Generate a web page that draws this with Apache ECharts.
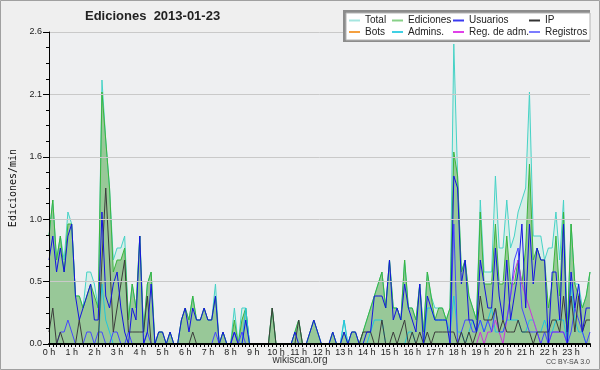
<!DOCTYPE html>
<html><head><meta charset="utf-8">
<script src="https://cdn.jsdelivr.net/npm/echarts@6/dist/echarts.min.js"></script>
<style>html,body{margin:0;padding:0;background:#efefef}#c{width:600px;height:370px}</style>
</head><body><div id="c"></div>
<script>
// 10-minute intervals, 144 points (00:00 .. 23:50)
const hourLabels = Array.from({length: 24}, (_, h) => h + ' h');
const times = Array.from({length: 144}, (_, i) => Math.floor(i / 6) + ':' + ((i % 6) * 10 + '').padStart(2, '0'));

const total = [
0.9,1.2,0.7,0.9,0.7,1.1,1.0,0.4,0.4,0.3,
0.6,0.6,0.5,0.3,2.2,1.7,1.3,0.7,0.8,0.8,
0.9,0.2,0.5,0.3,0.9,0.1,0.5,0.6,0,0.1,
0.1,0,0.1,0,0,0.2,0.3,0.2,0.4,0.2,
0.2,0.3,0.2,0.2,0.5,0,0.1,0,0,0.3,
0,0.3,0.3,0,0,0,0,0,0,0.3,
0,0,0,0,0,0.1,0.2,0,0,0.1,
0.2,0.1,0,0,0,0.1,0,0,0.2,0,
0.1,0.1,0,0.1,0.2,0.3,0.4,0.5,0.6,0.3,
0.7,0.3,0.3,0.2,0.7,0.3,0.3,0.2,0.5,0.1,
0.6,0.4,0.3,0.3,0.3,0.2,0.3,2.5,1.4,0.6,
0.7,0.4,0.3,0.2,1.2,0.6,0.6,0.6,1.4,0.8,
0.8,1.2,0.8,0.9,1.1,1.2,1.3,2.1,0.9,0.9,
0.9,0.7,0.8,0.8,1.1,0.7,1.2,0.1,1.0,0.5,
0.5,0.3,0.4,0.6];

const ediciones = [
0.9,1.2,0.7,0.9,0.6,1.0,1.0,0.4,0.4,0.3,
0.4,0.5,0.4,0.3,2.1,1.7,1.3,0.6,0.7,0.7,
0.8,0.2,0.5,0.3,0.9,0.1,0.5,0.6,0,0.1,
0.1,0,0.1,0,0,0.2,0.3,0.2,0.4,0.2,
0.2,0.3,0.2,0.2,0.4,0,0.1,0,0,0.2,
0,0.2,0.3,0,0,0,0,0,0,0.3,
0,0,0,0,0,0.1,0.2,0,0,0.1,
0.2,0.1,0,0,0,0.1,0,0,0.1,0,
0.1,0.1,0,0.1,0.2,0.3,0.4,0.5,0.6,0.3,
0.7,0.3,0.3,0.2,0.7,0.3,0.3,0.2,0.5,0.1,
0.6,0.4,0.2,0.3,0.3,0.2,0.3,1.6,1.4,0.6,
0.7,0.4,0.3,0.2,1.1,0.5,0.5,0.5,1.0,0.5,
0.5,0.9,0.5,0.5,0.7,0.5,0.8,1.5,0.7,0.8,
0.7,0.7,0.3,0.5,0.9,0.4,1.1,0.1,1.0,0.5,
0.4,0.3,0.4,0.6];

const usuarios = [
0.7,0.9,0.6,0.8,0.6,0.9,1.0,0.4,0.2,0.3,
0.4,0.5,0.2,0.2,1.1,0.4,0.3,0.5,0.6,0.3,
0.1,0,0.3,0.2,0.9,0,0.1,0.5,0,0.1,
0.1,0,0.1,0,0,0.2,0.3,0.1,0.3,0.2,
0.2,0.3,0.2,0.2,0.4,0,0.1,0,0,0.1,
0,0,0.2,0,0,0,0,0,0,0,
0,0,0,0,0,0.1,0,0,0,0.1,
0.2,0.1,0,0,0,0.1,0,0,0.1,0,
0.1,0.1,0,0,0.1,0.1,0.4,0.4,0.4,0.3,
0.7,0.2,0.3,0.2,0.5,0.3,0.2,0.1,0.5,0,
0.4,0.3,0.2,0.2,0.2,0.2,0,1.4,1.3,0.5,
0.7,0.2,0.2,0.1,0.7,0.5,0.3,0.3,0.8,0.4,
0.2,0.7,0.2,0.4,0.6,1.0,0.3,1.0,0.5,0.8,
0.7,0.7,0,0.6,0.6,0.2,1.0,0,0.6,0.3,
0.5,0.1,0.3,0.3];

const ip = [
0.1,0.3,0,0.1,0,0,0,0,0.2,0,
0,0,0,0,0.7,1.3,0.7,0.1,0.3,0.5,
0.7,0.1,0.1,0.1,0.1,0.1,0.4,0,0,0,
0,0,0,0,0,0,0,0,0.1,0,
0,0,0,0,0,0,0,0,0,0,
0,0,0,0,0,0,0,0,0,0.3,
0,0,0,0,0,0,0.2,0,0,0,
0,0,0,0,0,0,0,0,0,0,
0,0,0,0.1,0.1,0.1,0,0,0.2,0,
0,0.1,0,0.1,0.2,0,0.1,0,0.1,0,
0.1,0,0.1,0.1,0.1,0.1,0.1,0.1,0,0.1,
0,0.1,0,0.1,0.4,0.2,0.2,0.2,0.3,0.1,
0.2,0.1,0.1,0.1,0.2,0.1,0.1,0.1,0,0.1,
0.1,0.1,0.1,0.2,0.2,0.1,0.4,0.1,0.4,0.1,
0.4,0.1,0.2,0.2];

const bots = [
0,0,0,0,0,0,0,0,0,0, 0,0,0,0,0,0,0,0,0,0, 0,0,0,0,0,0,0,0,0,0,
0,0,0,0,0,0,0,0,0,0, 0,0,0,0,0,0,0,0,0,0, 0,0,0,0,0,0,0,0,0,0,
0,0,0,0,0,0,0,0,0,0, 0,0,0,0,0,0,0,0,0,0, 0,0,0,0,0,0,0,0,0,0,
0,0,0,0,0,0,0,0,0,0, 0,0,0,0,0,0,0,0,0,0, 0,0,0,0,0,0,0,0,0,0,
0,0,0,0,0,0,0,0,0,0, 0,0,0,0,0,0,0,0,0,0, 0,0,0,0];

const admins = [
0,0,0,0,0,0,0,0,0,0,
0,0,0,0,0.5,0.2,0.1,0,0,0,
0,0,0,0,0,0,0,0,0,0,
0,0,0,0,0,0,0,0,0,0,
0,0,0,0,0,0,0,0,0,0,
0,0,0.3,0,0,0,0,0,0,0,
0,0,0,0,0,0,0,0,0,0,
0,0,0,0,0,0,0,0,0.2,0,
0,0,0,0,0,0.1,0.2,0.2,0.2,0,
0,0,0,0,0,0.1,0.1,0,0,0,
0.3,0.3,0.2,0.2,0.2,0.2,0.1,0.4,0.1,0.1,
0,0.1,0.2,0.1,0.2,0.1,0.2,0.3,0.1,0.1,
0.1,0.2,0.2,0.2,0.2,0.1,0.1,0.2,0.2,0.1,
0.1,0.2,0.1,0.1,0.2,0.2,0.2,0,0.5,0.2,
0.1,0.1,0,0];

const regAdm = [
0,0,0,0,0,0,0,0,0,0, 0,0,0,0,0,0,0,0,0,0, 0,0,0,0,0,0,0,0,0,0,
0,0,0,0,0,0,0,0,0,0, 0,0,0,0,0,0,0,0,0,0, 0,0,0,0,0,0,0,0,0,0,
0,0,0,0,0,0,0,0,0,0, 0,0,0,0,0,0,0,0,0,0, 0,0,0,0,0,0,0,0,0,0,
0,0,0,0,0,0,0,0,0,0, 0,0,0,0,0,0,0,0,0,0,
0,0,0,0,0.1,0,0.1,0.1,0.2,0.1,
0,0.2,0.4,0.6,0.7,0.5,0.4,0.3,0.2,0.1,
0,0,0,0.1,0.1,0.1,0.1,0,0,0,
0,0,0,0];

const registros = [
0,0,0,0.1,0.1,0.2,0.1,0,0,0,
0.1,0.1,0,0.1,0.1,0,0,0.1,0.1,0,
0,0.1,0,0,0,0,0.1,0,0,0,
0,0,0,0,0,0,0,0,0,0,
0,0,0,0,0.1,0,0,0,0,0.1,
0,0.1,0,0,0,0,0,0,0,0,
0,0,0,0,0,0,0,0,0,0,
0,0,0,0,0,0,0,0,0,0,
0,0,0,0,0,0,0,0,0,0,
0,0,0,0,0,0,0,0,0,0,
0,0,0,0,0,0,0,1.0,0,0.1,
0.2,0.2,0.1,0.1,0.2,0.1,0.2,0.1,0.3,0.1,
0.1,0.2,0.4,0.7,0.8,0.3,0.2,0.1,0.1,0.1,
0,0.1,0,0.1,0.1,0.1,0.1,0,0.1,0.3,
0.2,0.1,0,0.1];

const chart = echarts.init(document.getElementById('c'), null, {renderer: 'canvas'});
function ln(name, data, color, extra) {
  return Object.assign({name, type: 'line', data, symbol: 'none', animation: false,
    lineStyle: {color, width: 1}, itemStyle: {color}, emphasis: {disabled: true}}, extra || {});
}
const legBase = {orient: 'vertical', top: 15.5, itemWidth: 11, itemHeight: 2, itemGap: 1.5,
  icon: 'rect', selectedMode: false, padding: 0, z: 20,
  textStyle: {fontSize: 10, fontFamily: 'Liberation Sans', color: '#222', lineHeight: 10}};
chart.setOption({
  backgroundColor: '#efefef',
  animation: false,
  title: {text: 'Ediciones  2013-01-23', left: 85, top: 10, padding: 0,
    textStyle: {fontSize: 13, fontWeight: 'bold', fontFamily: 'Liberation Sans', color: '#222'}},
  grid: {left: 46, right: 10, top: 32, bottom: 26, show: true, backgroundColor: '#eeeff1', borderWidth: 0},
  legend: [
    Object.assign({}, legBase, {left: 349, data: [{name: 'Total', itemStyle: {color: '#a6e6e0'}}, {name: 'Bots', itemStyle: {color: '#f5a040'}}]}),
    Object.assign({}, legBase, {left: 392, data: [{name: 'Ediciones', itemStyle: {color: '#88d088'}}, {name: 'Admins.', itemStyle: {color: '#40d0e4'}}]}),
    Object.assign({}, legBase, {left: 453, data: [{name: 'Usuarios', itemStyle: {color: '#3a3af0'}}, {name: 'Reg. de adm.', itemStyle: {color: '#e040e8'}}]}),
    Object.assign({}, legBase, {left: 529, data: [{name: 'IP', itemStyle: {color: '#333333'}}, {name: 'Registros', itemStyle: {color: '#7c7cff'}}]})
  ],
  xAxis: {type: 'category', data: times, boundaryGap: false, z: 5,
    axisLine: {lineStyle: {color: '#000', width: 2}},
    axisTick: {interval: 0, length: 3, lineStyle: {color: '#000'}},
    axisLabel: {interval: 5, margin: 4, fontSize: 9, fontFamily: 'Liberation Sans', color: '#222',
      formatter: (v, i) => (i % 6 === 0 ? hourLabels[i / 6] : '')},
    splitLine: {show: false}},
  yAxis: {type: 'value', min: 0, max: 2.6, interval: 0.52, z: 5,
    name: 'Ediciones/min', nameLocation: 'middle', nameGap: 31, nameRotate: 90,
    nameTextStyle: {fontSize: 10, fontFamily: 'DejaVu Sans Mono', color: '#111'},
    axisLine: {show: true, lineStyle: {color: '#000', width: 1}},
    axisTick: {show: true, length: 6, lineStyle: {color: '#000'}},
    minorTick: {show: true, splitNumber: 4, length: 3, lineStyle: {color: '#000'}},
    axisLabel: {margin: 7, fontSize: 9, fontFamily: 'Liberation Sans', color: '#222', formatter: v => v.toFixed(1)},
    splitLine: {lineStyle: {color: '#c9c9c9', width: 1}}},
  series: [
    ln('Total', total, '#46d2c6', {areaStyle: {color: '#d8eee8', opacity: 1}}),
    ln('Ediciones', ediciones, '#3cb43c', {areaStyle: {color: '#98c898', opacity: 1}}),
    ln('Bots', bots, '#f5a040'),
    ln('Admins.', admins, '#22c6dc'),
    ln('Reg. de adm.', regAdm, '#cc33dd'),
    ln('Registros', registros, '#4646ff'),
    ln('IP', ip, '#3c3c3c'),
    ln('Usuarios', usuarios, '#1414e0')
  ],
  graphic: [
    {type: 'rect', z: 10, shape: {x: 343, y: 10, width: 247, height: 32}, style: {fill: '#8c8c8c'}},
    {type: 'rect', z: 11, shape: {x: 346, y: 13, width: 244, height: 27}, style: {fill: '#ffffff', stroke: '#b4b4b4', lineWidth: 1}},
    {type: 'text', z: 11, left: 'center', top: 355, style: {text: 'wikiscan.org', fontSize: 10, fontFamily: 'Liberation Sans', fill: '#333'}},
    {type: 'text', z: 11, right: 10, top: 359, style: {text: 'CC BY-SA 3.0', fontSize: 7, fontFamily: 'Liberation Sans', fill: '#444'}},
    {type: 'rect', z: 30, shape: {x: 0.5, y: 0.5, width: 599, height: 369}, style: {fill: 'none', stroke: '#a0a0a0', lineWidth: 1}}
  ]
});
</script></body></html>
